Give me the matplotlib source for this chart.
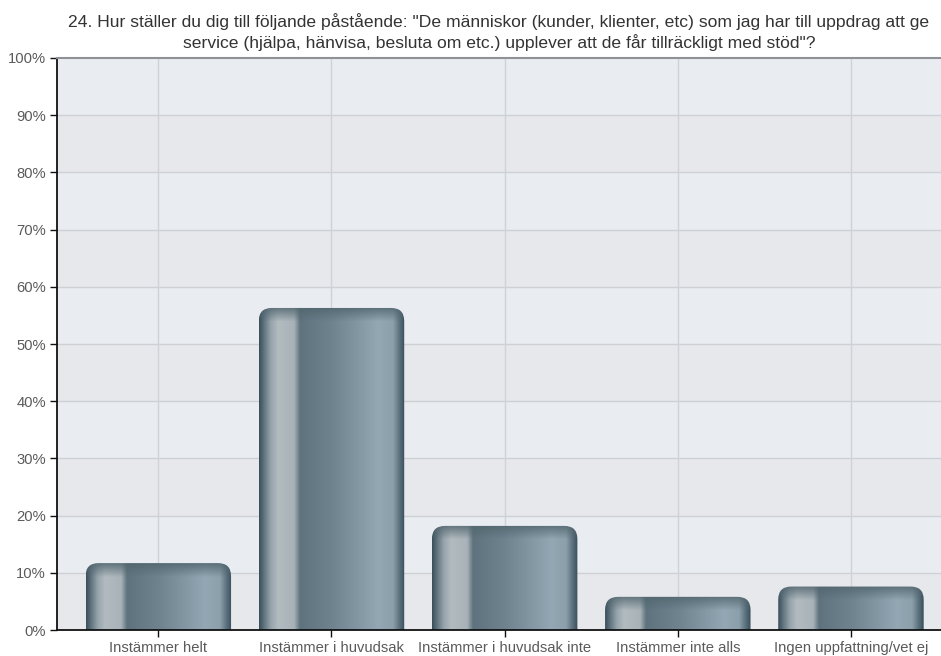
import numpy as np
import matplotlib
matplotlib.use("Agg")
import matplotlib.pyplot as plt
from matplotlib.patches import FancyBboxPatch, Rectangle
from matplotlib.colors import to_rgb
from matplotlib.ticker import FuncFormatter

categories = ["Instämmer helt", "Instämmer i huvudsak", "Instämmer i huvudsak inte",
              "Instämmer inte alls", "Ingen uppfattning/vet ej"]
values = [11.7, 56.3, 18.2, 5.8, 7.6]
yticks = [0, 10, 20, 30, 40, 50, 60, 70, 80, 90, 100]
title = ('24. Hur ställer du dig till följande påstående: "De människor (kunder, klienter, etc) som jag har till uppdrag att ge\n'
         'service (hjälpa, hänvisa, besluta om etc.) upplever att de får tillräckligt med stöd"?')

plt.rcParams['font.family'] = ['Liberation Sans', 'DejaVu Sans']

fig = plt.figure(figsize=(9.41, 6.56), dpi=100)
ax = fig.add_axes([0.0606, 0.0396, 0.9394, 0.872])
ax.set_xlim(-0.585, 4.52)
ax.set_ylim(0, 100)

# background bands
ax.set_facecolor("#e9edf1")
for i, y0 in enumerate(range(0, 100, 10)):
    c = "#e9ecf0" if (i % 2 == 1) else "#e6e8eb"
    ax.add_patch(Rectangle((-1, y0), 7, 10, facecolor=c, edgecolor="none", zorder=0))
for y in yticks[1:-1]:
    ax.axhline(y, color="#cdd1d6", lw=1, zorder=1)
for i in range(len(categories)):
    ax.axvline(i, color="#cfd3d8", lw=1, zorder=1)

# horizontal colour profile of a bar
stops = [0.0, 0.03, 0.08, 0.13, 0.24, 0.28, 0.50, 0.82, 0.92, 0.97, 1.0]
cols = ["#3b505c", "#5d717c", "#97a4ac", "#b2bbc0", "#a8b2b8", "#5f737e",
        "#6e838e", "#93a7b4", "#8ca0ab", "#566c78", "#3a4f5b"]
rgb = np.array([to_rgb(c) for c in cols])
xs = np.linspace(0, 1, 200)
prof = np.stack([np.interp(xs, stops, rgb[:, k]) for k in range(3)], axis=1)

w = 0.84
px_per_pct = 5.73
cap = 14 / px_per_pct
rx = 0.075                      # corner radius in x data units (~13 px)
aspect = (13 / px_per_pct) / rx  # so the y radius is ~13 px too
for i, v in enumerate(values):
    ny = 300
    yy = np.linspace(0, v, ny)
    img = np.repeat(prof[None, :, :], ny, axis=0)
    # darker top cap
    d = np.clip((v - yy) / cap, 0, 1)
    topc = np.array(to_rgb("#52666f"))
    mix = (1 - d)[:, None, None] * 0.85
    img = img * (1 - mix) + topc[None, None, :] * mix
    img = img[::-1]
    im = ax.imshow(img, extent=(i - w / 2, i + w / 2, 0, v), aspect="auto",
                   interpolation="bilinear", zorder=2)
    patch = FancyBboxPatch((i - w / 2, -5), w, v + 5,
                           boxstyle=f"round,pad=0,rounding_size={rx}",
                           mutation_aspect=aspect,
                           facecolor="none", edgecolor="none", transform=ax.transData)
    ax.add_patch(patch)
    im.set_clip_path(patch)

ax.set_xlim(-0.585, 4.52)
ax.set_ylim(0, 100)
ax.set_yticks(yticks)
ax.yaxis.set_major_formatter(FuncFormatter(lambda v, p: f"{int(v)}%"))
ax.set_xticks(range(len(categories)))
ax.set_xticklabels(categories)
ax.tick_params(axis="both", labelsize=10.6, colors="#111111", labelcolor="#5a5a5a", length=5, width=1)
ax.tick_params(axis="x", pad=3)
ax.tick_params(axis="y", pad=3)
for s in ["left", "bottom"]:
    ax.spines[s].set_color("#111111")
    ax.spines[s].set_linewidth(1.3)
ax.spines["right"].set_visible(False)
ax.spines["top"].set_color("#8e9296")
ax.spines["top"].set_linewidth(1.5)
ax.set_title(title, fontsize=12.6, color="#333333", pad=7, linespacing=1.3)

fig.savefig("out.png", dpi=100)
